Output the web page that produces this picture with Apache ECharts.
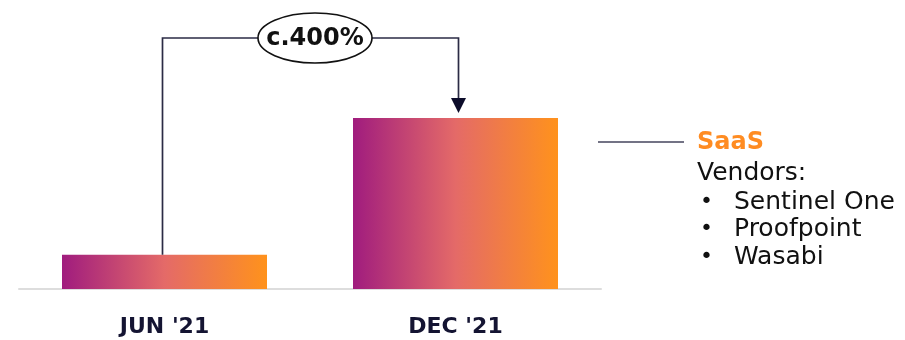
<!DOCTYPE html>
<html>
<head>
<meta charset="utf-8">
<script src="https://cdn.jsdelivr.net/npm/echarts@6/dist/echarts.min.js"></script>
<style>
  html, body { margin: 0; padding: 0; background: #fff; }
  #chart { width: 905px; height: 340px; }
</style>
</head>
<body>
<div id="chart"></div>
<script>
// Periods and relative spend (index, JUN '21 = 1)
const categories = ['JUN \'21', 'DEC \'21'];
const values = [1, 5];
const growthLabel = 'c.400%';
const noteTitle = 'SaaS';
const noteHeading = 'Vendors:';
const vendors = ['Sentinel One', 'Proofpoint', 'Wasabi'];

const FONT = '"DejaVu Sans", "Noto Sans", sans-serif';
const INK = '#141432';
const LINE = '#2b2b45';

const chart = echarts.init(document.getElementById('chart'), null, { renderer: 'canvas' });

const barGradient = new echarts.graphic.LinearGradient(0, 0, 1, 0, [
  { offset: 0, color: '#A01C7E' },
  { offset: 0.5, color: '#E46A68' },
  { offset: 1, color: '#FF921C' }
]);

chart.setOption({
  animation: false,
  grid: { left: 19, width: 582, top: 118, bottom: 51 },
  xAxis: {
    type: 'category',
    data: categories,
    axisLine: { show: true, lineStyle: { color: '#dddddd', width: 2 } },
    axisTick: { show: false },
    axisLabel: {
      margin: 27,
      fontFamily: FONT,
      fontWeight: 'bold',
      fontSize: 22,
      color: INK
    }
  },
  yAxis: {
    type: 'value',
    min: 0,
    max: 5,
    show: false,
    splitLine: { show: false }
  },
  series: [{
    type: 'bar',
    data: values,
    barWidth: 205,
    itemStyle: { color: barGradient },
    z: 3
  }]
});

// Connector from the first bar up and over to the second, with the growth label
function drawOverlay() {
  const p1 = chart.convertToPixel({ seriesIndex: 0 }, [0, values[0]]);
  const p2 = chart.convertToPixel({ seriesIndex: 0 }, [1, values[1]]);
  const topY = 38;
  const x1 = p1[0] - 2;
  const x2 = p2[0] + 3;
  const arrowTip = p2[1] - 5;
  const midX = 315;

  const elements = [
    {
      type: 'polyline',
      shape: { points: [[x1, p1[1]], [x1, topY], [x2, topY], [x2, arrowTip - 12]] },
      style: { stroke: LINE, lineWidth: 1.7, fill: null },
      z: 5
    },
    {
      type: 'polygon',
      shape: { points: [[x2 - 7.5, arrowTip - 15], [x2 + 7.5, arrowTip - 15], [x2, arrowTip]] },
      style: { fill: '#0c0c2a' },
      z: 6
    },
    {
      type: 'ellipse',
      shape: { cx: midX, cy: topY, rx: 57, ry: 25 },
      style: { fill: '#ffffff', stroke: '#111111', lineWidth: 1.6 },
      z: 7
    },
    {
      type: 'text',
      x: midX,
      y: topY + 1,
      style: {
        text: growthLabel,
        fontFamily: FONT,
        fontWeight: 'bold',
        fontSize: 24,
        fill: '#111111',
        align: 'center',
        verticalAlign: 'middle'
      },
      z: 8
    },
    // Side note pointing at the second bar
    {
      type: 'line',
      shape: { x1: 598, y1: 142, x2: 684, y2: 142 },
      style: { stroke: '#44445c', lineWidth: 1.5 },
      z: 5
    },
    {
      type: 'text',
      x: 697,
      y: 143,
      style: {
        text: noteTitle,
        fontFamily: FONT,
        fontWeight: 'bold',
        fontSize: 24,
        fill: '#FF8C22',
        verticalAlign: 'middle'
      }
    },
    {
      type: 'text',
      x: 697,
      y: 173,
      style: {
        text: noteHeading,
        fontFamily: FONT,
        fontSize: 25,
        fill: '#111111',
        verticalAlign: 'middle'
      }
    }
  ];

  vendors.forEach(function (name, i) {
    const y = 202 + i * 27.5;
    elements.push({
      type: 'text', x: 700, y: y,
      style: { text: '•', fontFamily: FONT, fontSize: 22, fill: '#111111', verticalAlign: 'middle' }
    });
    elements.push({
      type: 'text', x: 734, y: y,
      style: { text: name, fontFamily: FONT, fontSize: 25, fill: '#111111', verticalAlign: 'middle' }
    });
  });

  chart.setOption({ graphic: { elements: elements } });
}

drawOverlay();
</script>
</body>
</html>
